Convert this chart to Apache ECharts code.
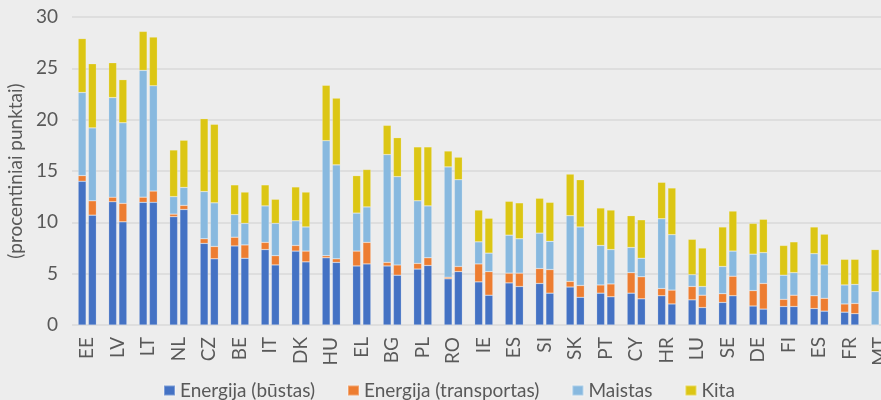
<!DOCTYPE html>
<html>
<head>
<meta charset="utf-8">
<script src="https://cdn.jsdelivr.net/npm/echarts/dist/echarts.min.js"></script>
<style>
  html, body { margin: 0; padding: 0; background: #ededed; }
  #chart { width: 881px; height: 400px; }
</style>
</head>
<body>
<div id="chart"></div>
<script>
// šalys (ES dvi kartas - taip yra originale)
var countries = ['EE', 'LV', 'LT', 'NL', 'CZ', 'BE', 'IT', 'DK', 'HU', 'EL', 'BG', 'PL', 'RO', 'IE',
    'ES', 'SI', 'SK', 'PT', 'CY', 'HR', 'LU', 'SE', 'DE', 'FI', 'ES', 'FR', 'MT'];

// pirmas stulpelis
var housing1 = [14.0, 12.0, 11.95, 10.55, 7.95, 7.7, 7.35, 7.2, 6.55, 5.75, 5.75, 5.45, 4.5, 4.2,
    4.1, 4.05, 3.7, 3.1, 3.1, 2.85, 2.45, 2.2, 1.85, 1.8, 1.6, 1.25, 0];
var transport1 = [0.55, 0.45, 0.5, 0.25, 0.45, 0.85, 0.7, 0.55, 0.2, 1.45, 0.35, 0.55, 0.15, 1.75,
    0.95, 1.45, 0.55, 0.8, 2.0, 0.7, 1.3, 0.85, 1.5, 0.7, 1.25, 0.8, 0];
var food1 = [8.1, 9.7, 12.35, 1.7, 4.6, 2.2, 3.55, 2.4, 11.2, 3.7, 10.5, 6.1, 10.75, 2.15,
    3.7, 3.45, 6.4, 3.85, 2.45, 6.8, 1.15, 2.65, 3.55, 2.35, 4.1, 1.85, 3.25];
var other1 = [5.25, 3.4, 3.8, 4.55, 7.1, 2.9, 2.05, 3.3, 5.4, 3.65, 2.85, 5.25, 1.55, 3.1,
    3.3, 3.4, 4.05, 3.65, 3.1, 3.55, 3.45, 3.85, 3.0, 2.9, 2.6, 2.5, 4.1];

// antras stulpelis
var housing2 = [10.7, 10.05, 11.95, 11.25, 6.45, 6.5, 5.85, 6.15, 6.1, 5.95, 4.85, 5.8, 5.2, 2.9,
    3.75, 3.1, 2.7, 2.75, 2.55, 2.05, 1.7, 2.85, 1.55, 1.8, 1.35, 1.1, 0];
var transport2 = [1.4, 1.8, 1.1, 0.4, 1.2, 1.3, 0.9, 1.05, 0.35, 2.1, 1.0, 0.75, 0.5, 2.3,
    1.3, 2.3, 1.15, 1.25, 2.15, 1.35, 1.2, 1.9, 2.5, 1.1, 1.25, 1.0, 0];
var food2 = [7.1, 7.85, 10.25, 1.75, 4.25, 2.1, 3.15, 2.35, 9.15, 3.45, 8.6, 5.05, 8.45, 1.8,
    3.35, 2.75, 5.7, 3.35, 1.8, 5.4, 0.85, 2.45, 3.0, 2.2, 3.25, 1.85, 2.7];
var other2 = [6.25, 4.2, 4.75, 4.6, 7.65, 3.05, 2.35, 3.4, 6.5, 3.65, 3.8, 5.75, 2.2, 3.4,
    3.5, 3.8, 4.6, 3.85, 3.75, 4.55, 3.75, 3.9, 3.25, 3.0, 3.0, 2.45, 4.4];

var names = ['Energija (būstas)', 'Energija (transportas)', 'Maistas', 'Kita'];
var colors = ['#4472c4', '#ed7d31', '#88b9df', '#dcc614'];
var font = 'Lato, "Open Sans", sans-serif';
var textColor = '#595959';

function barSeries(name, data, stack, color) {
    return {
        name: name,
        type: 'bar',
        stack: stack,
        data: data,
        barWidth: 8,
        barGap: '28%',
        itemStyle: { color: color, borderColor: 'rgba(255,255,255,0.3)', borderWidth: 0.6 },
        emphasis: { disabled: true }
    };
}

var chart = echarts.init(document.getElementById('chart'));
var series = [];
var first = [housing1, transport1, food1, other1];
var second = [housing2, transport2, food2, other2];
for (var i = 0; i < 4; i++) {
    series.push(barSeries(names[i], first[i], 'a', colors[i]));
}
for (var j = 0; j < 4; j++) {
    series.push(barSeries(names[j], second[j], 'b', colors[j]));
}

// MT stulpeliai nukirsti dešinėje, todėl tinklelis eina už drobės ribų
var option = {
    backgroundColor: '#ededed',
    animation: false,
    textStyle: { fontFamily: font },
    grid: { left: 72, top: 17, width: 823.5, height: 308, containLabel: false, outerBoundsMode: 'none' },
    legend: {
        data: names,
        left: 158,
        top: 376,
        itemWidth: 11,
        itemHeight: 10,
        itemGap: 32,
        icon: 'rect',
        textStyle: { color: textColor, fontSize: 19, fontFamily: font }
    },
    xAxis: {
        type: 'category',
        data: countries,
        axisLine: { show: false },
        axisTick: { show: false },
        axisLabel: {
            rotate: 90,
            margin: 12,
            interval: 0,
            color: textColor,
            fontSize: 19,
            fontFamily: font
        }
    },
    yAxis: {
        type: 'value',
        min: 0,
        max: 30,
        interval: 5,
        name: '(procentiniai punktai)',
        nameLocation: 'middle',
        nameGap: 31,
        nameTextStyle: { color: textColor, fontSize: 19, fontFamily: font },
        axisLabel: { color: textColor, fontSize: 19, margin: 14, fontFamily: font },
        splitLine: { lineStyle: { color: '#d9d9d9', width: 1.5 } }
    },
    series: series
};
chart.setOption(option);
</script>
</body>
</html>
